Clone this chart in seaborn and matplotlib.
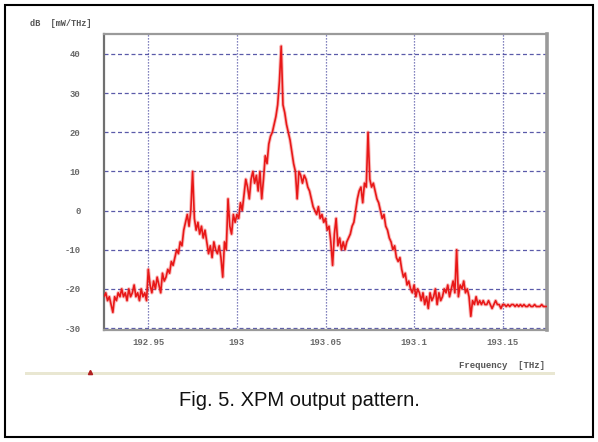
import numpy as np
import pandas as pd
import seaborn as sns
import matplotlib
matplotlib.use("Agg")
import matplotlib.pyplot as plt
from matplotlib.patches import Rectangle
from matplotlib.lines import Line2D

# Spectrum sampled every 1 GHz across the displayed span
freq_start = 192.925
freq_step = 0.001

power_db = [
    # 192.925 - 192.950
    -22, -21, -23, -22, -24, -26, -22, -23, -21, -22, -20, -22, -21,
    -23, -20, -22, -21, -19, -22, -21, -23, -20, -22, -21, -23, -15,
    # 192.951 - 192.960
    -19, -21, -18, -20, -17, -19, -21, -16, -18, -17,
    # 192.961 - 192.970
    -15, -16, -13, -14, -12, -10, -11, -8, -9, -5,
    # 192.971 - 192.980
    -3, -1, -4, 0, 10, -2, -5, -3, -6, -4,
    # 192.981 - 192.990
    -7, -5, -8, -11, -9, -12, -8, -10, -11, -9,
    # 192.991 - 193.000
    -12, -17, -8, -10, 3, -4, -6, -1, -3, -1,
    # 193.001 - 193.010
    -2, 2, 0, 4, 8, 6, 3, 8, 10, 7,
    # 193.011 - 193.020
    9, 5, 10, 3, 8, 14, 12, 17, 19, 20,
    # 193.021 - 193.030
    22, 24, 27, 33, 42, 27, 25, 22, 20, 18,
    # 193.031 - 193.040
    15, 12, 10, 3, 10, 9, 7, 9, 8, 6,
    # 193.041 - 193.050
    5, 3, 1, 0, -1, 1, -2, -1, -3, -2,
    # 193.051 - 193.060
    -5, -4, -8, -14, -6, -2, -9, -7, -10, -8,
    # 193.061 - 193.070
    -10, -8, -7, -6, -4, -3, 0, 3, 5, 6,
    # 193.071 - 193.080
    2, 7, 6, 20, 8, 6, 7, 5, 3, 2,
    # 193.081 - 193.090
    0, -2, -1, -4, -5, -7, -8, -10, -9, -12,
    # 193.091 - 193.100
    -13, -12, -15, -17, -16, -19, -18, -20, -21, -19,
    # 193.101 - 193.110
    -22, -20, -21, -23, -21, -24, -22, -25, -21, -23,
    # 193.111 - 193.120
    -22, -20, -24, -21, -23, -22, -20, -21, -19, -22,
    # 193.121 - 193.130
    -20, -18, -21, -10, -22, -19, -20, -18, -21, -20,
    # 193.131 - 193.140
    -22, -27, -23, -24, -22, -24, -23, -24, -23, -24,
    # 193.141 - 193.150
    -24, -23, -24, -25, -24, -23, -24, -24, -25, -24,
    # 193.151 - 193.160
    -24, -24.5, -24, -24.5, -24, -24, -24.5, -24, -24.5, -24,
    # 193.161 - 193.175
    -24.5, -24, -24.5, -24.5, -24, -24.5, -24.5, -24, -24.5, -24.5,
    -24.5, -24, -24.5, -24.5, -24.5,
]

x_ticks = [192.95, 193.0, 193.05, 193.1, 193.15]
x_tick_labels = ["192.95", "193", "193.05", "193.1", "193.15"]
y_ticks = [-30, -20, -10, 0, 10, 20, 30, 40]
y_tick_labels = ["-30", "-20", "-10", "0", "10", "20", "30", "40"]

freq = np.round(freq_start + freq_step * np.arange(len(power_db)), 4)
df = pd.DataFrame({"freq": freq, "power": power_db})

sns.set_style("white")
plt.rcParams["font.family"] = ["DejaVu Sans"]

W, H = 598, 442
fig = plt.figure(figsize=(W / 100, H / 100), dpi=100)
fig.patch.set_facecolor("white")

# plot area in pixel coordinates
L, R, T, B = 104, 547, 34, 330
ax = fig.add_axes([L / W, 1 - B / H, (R - L) / W, (B - T) / H])

grid_col = "#4848a0"
for yv in y_ticks:
    ax.axhline(yv, color=grid_col, lw=0.9, ls=(0, (3.2, 2.2)), zorder=1,
               alpha=0.9)
for xv in x_ticks:
    ax.axvline(xv, color=grid_col, lw=0.9, ls=(0, (1.0, 1.4)), zorder=1,
               alpha=0.9)

# soft halo under the trace, then the trace itself
sns.lineplot(data=df, x="freq", y="power", ax=ax, color="#f04040",
             lw=2.6, alpha=0.35, zorder=2, estimator=None)
sns.lineplot(data=df, x="freq", y="power", ax=ax, color="#e81818",
             lw=1.2, zorder=3, estimator=None)

ax.set_xlim(192.925, 193.175)
ax.set_ylim(-30.5, 45.1)
ax.set_xticks(x_ticks)
ax.set_xticklabels(x_tick_labels)
ax.set_yticks(y_ticks)
ax.set_yticklabels(y_tick_labels)
ax.set_xlabel("")
ax.set_ylabel("")

mono = ["Liberation Mono", "DejaVu Sans Mono"]
for lab in ax.get_xticklabels() + ax.get_yticklabels():
    lab.set_family(mono)
    lab.set_fontsize(6.5)
    lab.set_fontweight("bold")
    lab.set_color("#6a6a6a")
ax.tick_params(axis="both", which="both", length=3, width=0.9,
               color="#777777", direction="out")
ax.tick_params(axis="y", pad=14)
ax.tick_params(axis="x", pad=3)

for side, sp in ax.spines.items():
    sp.set_color("#9a9a9a")
    sp.set_linewidth(1.6)
ax.spines["right"].set_linewidth(2.6)
ax.spines["left"].set_color("#707070")

# axis captions in the instrument style
fig.text(30 / W, 1 - 24 / H, "dB  [mW/THz]", family=mono, fontsize=6.2,
         fontweight="bold", color="#555555", ha="left", va="center")
fig.text(545 / W, 1 - 366 / H, "Frequency  [THz]", family=mono, fontsize=6.5,
         fontweight="bold", color="#555555", ha="right", va="center")

# status strip beneath the plot
fig.add_artist(Rectangle((25 / W, 1 - 375 / H), 530 / W, 3 / H,
                         transform=fig.transFigure, facecolor="#e9e7d2",
                         edgecolor="none"))
fig.add_artist(Line2D([90 / W], [1 - 372 / H], marker="^", markersize=3,
                      color="#b02020", transform=fig.transFigure))

# figure caption
fig.text(0.5, 1 - 401 / H, "Fig. 5. XPM output pattern.",
         family=["Liberation Sans", "DejaVu Sans"], fontsize=14.5,
         color="#111111", ha="center", va="center")

# outer frame
fig.add_artist(Rectangle((5 / W, 5 / H), 588 / W, 432 / H,
                         transform=fig.transFigure, facecolor="none",
                         edgecolor="black", lw=1.5))

fig.savefig("out.png", dpi=100)
